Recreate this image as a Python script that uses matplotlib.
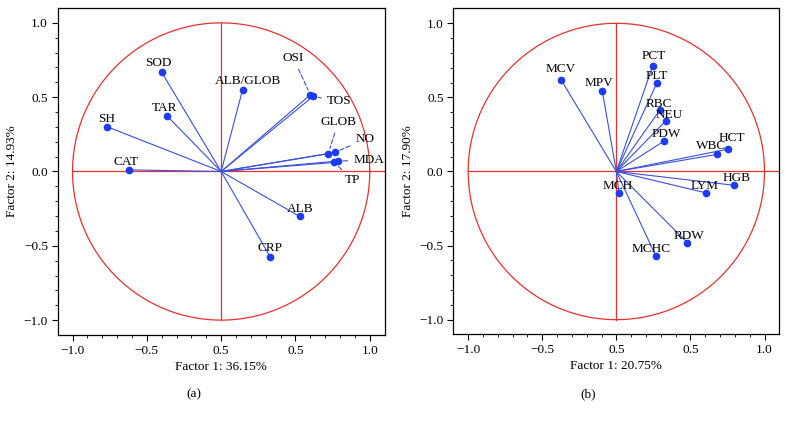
import matplotlib.pyplot as plt
import numpy as np

plt.rcParams['font.family'] = ['Liberation Serif', 'DejaVu Serif']

# panel (a) loadings
names_a = ["SOD", "ALB/GLOB", "OSI", "TOS", "TAR", "SH", "CAT", "GLOB", "NO",
           "MDA", "TP", "ALB", "CRP"]
x_a = [-0.40, 0.144, 0.60, 0.618, -0.362, -0.769, -0.623, 0.721, 0.764,
       0.784, 0.762, 0.528, 0.332]
y_a = [0.667, 0.55, 0.516, 0.505, 0.372, 0.302, 0.011, 0.12, 0.128,
       0.07, 0.061, -0.302, -0.578]

# panel (b) loadings
names_b = ["MCV", "MPV", "PCT", "PLT", "RBC", "NEU", "PDW", "WBC", "HCT",
           "HGB", "LYM", "MCH", "RDW", "MCHC"]
x_b = [-0.372, -0.095, 0.245, 0.272, 0.293, 0.335, 0.322, 0.678, 0.754,
       0.795, 0.608, 0.018, 0.48, 0.266]
y_b = [0.617, 0.544, 0.712, 0.594, 0.413, 0.343, 0.205, 0.115, 0.151,
       -0.093, -0.145, -0.147, -0.481, -0.569]

xlabels = ["Factor 1: 36.15%", "Factor 1: 20.75%"]
ylabels = ["Factor 2: 14.93%", "Factor 2: 17.90%"]
subtitles = ["(a)", "(b)"]
xtick_vals = [-1.0, -0.5, 0.0, 0.5, 1.0]
xtick_text = ["\u22121.0", "\u22120.5", "0.5", "0.5", "1.0"]
ytick_text = ["\u22121.0", "\u22120.5", "0.0", "0.5", "1.0"]

# label offsets in pixels (dx, dy), and whether a dashed leader is used
off_a = {"SOD": (-3, 9), "ALB/GLOB": (5, 9), "OSI": (-17, 37), "TOS": (26, -5),
         "TAR": (-3, 8), "SH": (0, 8), "CAT": (-3, 8), "GLOB": (10, 32),
         "NO": (30, 13), "MDA": (31, 1), "TP": (18, -18), "ALB": (1, 7),
         "CRP": (0, 9)}
leader_a = {"OSI", "TOS", "GLOB", "NO", "MDA", "TP"}
off_b = {"MCV": (0, 11), "MPV": (-3, 8), "PCT": (1, 10), "PLT": (0, 7),
         "RBC": (-1, 6), "NEU": (3, 6), "PDW": (2, 7), "WBC": (-6, 8),
         "HCT": (4, 11), "HGB": (2, 7), "LYM": (-2, 7), "MCH": (-1, 7),
         "RDW": (2, 7), "MCHC": (-5, 7)}

red = '#e8312f'
blue_line = '#3a4fe0'
blue_dot = '#1d3cf2'
fs = 9.5

fig = plt.figure(figsize=(7.88, 4.21), dpi=100)
ax_a = fig.add_axes([0.0727, 0.2043, 0.4159, 0.7767])
ax_b = fig.add_axes([0.5753, 0.2043, 0.4137, 0.7767])

panels = [(ax_a, names_a, x_a, y_a, off_a, leader_a),
          (ax_b, names_b, x_b, y_b, off_b, set())]

t = np.linspace(0, 2 * np.pi, 400)
for k, (ax, names, xs, ys, offs, leaders) in enumerate(panels):
    ax.plot(np.cos(t), np.sin(t), color=red, lw=0.9, zorder=1)
    ax.plot([-1, 1.1], [0, 0], color=red, lw=0.9, zorder=1)
    ax.plot([0, 0], [-1, 1], color=red, lw=0.9, zorder=1)

    for name, xv, yv in zip(names, xs, ys):
        ax.plot([0, xv], [0, yv], color=blue_line, lw=0.8, zorder=2)
        ax.plot(xv, yv, 'o', color=blue_dot, ms=4.5, zorder=3)
        dx, dy = offs[name]
        if name in leaders:
            ax.annotate(name, (xv, yv), xytext=(dx, dy), textcoords='offset pixels',
                        ha='center', va='center', fontsize=fs,
                        arrowprops=dict(arrowstyle='-', color=blue_line, lw=0.8,
                                        linestyle=(0, (4, 2)), shrinkA=2, shrinkB=4))
        else:
            ax.annotate(name, (xv, yv), xytext=(dx, dy), textcoords='offset pixels',
                        ha='center', va='center', fontsize=fs)

    ax.set_xlim(-1.1, 1.1)
    ax.set_ylim(-1.1, 1.1)
    ax.set_aspect('equal')
    ax.set_xticks(xtick_vals)
    ax.set_xticklabels(xtick_text)
    ax.set_yticks(xtick_vals)
    ax.set_yticklabels(ytick_text)
    ax.set_xticks(np.arange(-1.0, 1.05, 0.1), minor=True)
    ax.set_yticks(np.arange(-1.0, 1.05, 0.1), minor=True)
    ax.tick_params(which='major', length=4, width=0.8, labelsize=fs, pad=3)
    ax.tick_params(which='minor', length=2.5, width=0.6)
    for s in ax.spines.values():
        s.set_linewidth(0.9)
    ax.set_xlabel(xlabels[k], fontsize=fs, labelpad=3)
    ax.set_ylabel(ylabels[k], fontsize=fs, labelpad=4)

fig.text(194 / 788, 1 - 394 / 421, subtitles[0], ha='center', va='center', fontsize=fs)
fig.text(588 / 788, 1 - 394 / 421, subtitles[1], ha='center', va='center', fontsize=fs)

fig.savefig('out.png', dpi=100)
